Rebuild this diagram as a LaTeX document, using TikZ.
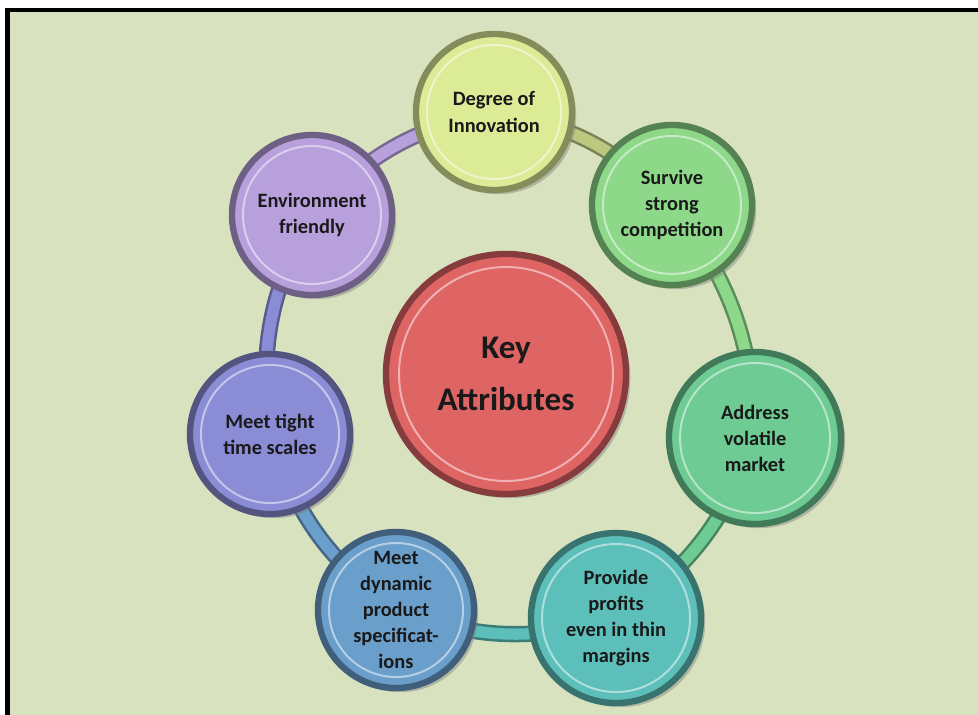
\documentclass[tikz,border=0pt]{standalone}
\usepackage{fontspec}
\setmainfont{Carlito}
\usetikzlibrary{shadows,backgrounds}
\definecolor{bg}{HTML}{D8E2BF}
\definecolor{inno}{HTML}{DCEB96}
\definecolor{surv}{HTML}{8ED889}
\definecolor{addr}{HTML}{6DCB93}
\definecolor{prov}{HTML}{5DBFBA}
\definecolor{dyn}{HTML}{6B9FCB}
\definecolor{tscale}{HTML}{8A8DD6}
\definecolor{envf}{HTML}{B7A0DC}
\definecolor{keyred}{HTML}{DF6464}
\begin{document}
\begin{tikzpicture}[x=0.025cm, y=-0.025cm,
  attr/.style={circle, fill=#1, draw=#1!60!black, line width=4.5pt, align=center, inner sep=0pt,
    text=black!90, font=\bfseries\fontsize{14.5}{18.5}\selectfont,
    drop shadow={opacity=0.45, shadow xshift=3pt, shadow yshift=-3pt}},
  link/.style={draw=#1!65!black, double=#1, double distance=8pt, line width=1.8pt},
  glint/.style={white, opacity=0.5, line width=1.4pt}]
\useasboundingbox (0,0) rectangle (978,715);
\begin{scope}[on background layer]
\fill[white] (0,0) rectangle (978,715);
\fill[black] (5,8) rectangle (978,715);
\fill[bg] (10,12) rectangle (978,715);
\end{scope}
\node[attr=keyred, minimum size=6cm, font=\bfseries\fontsize{23.5}{37}\selectfont] (key) at (506,374) {Key\\Attributes};
\node[attr=inno, minimum size=3.9cm] (inno) at (494,112) {Degree of\\Innovation};
\node[attr=surv, minimum size=4cm] (surv) at (672,205) {Survive\\strong\\competition};
\node[attr=addr, minimum size=4.3cm] (addr) at (755,438) {Address\\volatile\\market};
\node[attr=prov, minimum size=4.25cm] (prov) at (616,618) {Provide\\profits\\even in thin\\margins};
\node[attr=dyn, minimum size=3.9cm] (dyn) at (396,610) {Meet\\dynamic\\product\\specificat-\\ions};
\node[attr=tscale, minimum size=4cm] (tscale) at (270,434) {Meet tight\\time scales};
\node[attr=envf, minimum size=4cm] (envf) at (312,215) {Environment\\friendly};
\foreach \n/\r in {key/107, inno/67, surv/69, addr/75, prov/74, dyn/67, tscale/69, envf/69}
  \draw[glint] (\n) circle[radius=\r];
\begin{scope}[on background layer]
\draw[link=envf] (envf.center) to[bend left=18] (inno.center);
\draw[link=inno!85!black] (inno.center) to[bend left=18] (surv.center);
\draw[link=surv] (surv.center) to[bend left=18] (addr.center);
\draw[link=addr] (addr.center) to[bend left=18] (prov.center);
\draw[link=prov] (prov.center) to[bend left=18] (dyn.center);
\draw[link=dyn] (dyn.center) to[bend left=18] (tscale.center);
\draw[link=tscale] (tscale.center) to[bend left=18] (envf.center);
\end{scope}
\end{tikzpicture}
\end{document}
